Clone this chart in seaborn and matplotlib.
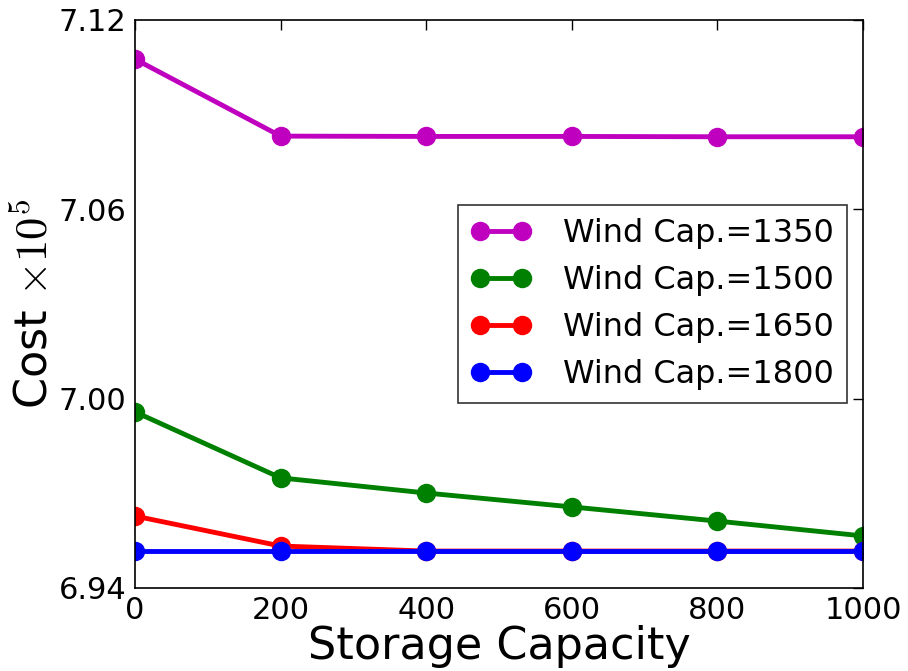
import numpy as np
import pandas as pd
import matplotlib
matplotlib.use("Agg")
import matplotlib.pyplot as plt
import seaborn as sns

storage = [0, 200, 400, 600, 800, 1000]
wind_caps = ["Wind Cap.=1350", "Wind Cap.=1500", "Wind Cap.=1650", "Wind Cap.=1800"]
cost_1350 = [7.1076, 7.0832, 7.0831, 7.0831, 7.0830, 7.0830]
cost_1500 = [6.9958, 6.9749, 6.9701, 6.9657, 6.9612, 6.9565]
cost_1650 = [6.9628, 6.9533, 6.9517, 6.9517, 6.9517, 6.9517]
cost_1800 = [6.9517, 6.9517, 6.9517, 6.9517, 6.9517, 6.9517]
colors = ["#bf00bf", "#008000", "#ff0000", "#0000ff"]

series = [cost_1350, cost_1500, cost_1650, cost_1800]
df = pd.concat(
    [pd.DataFrame({"storage": storage, "cost": vals, "wind": name})
     for name, vals in zip(wind_caps, series)],
    ignore_index=True,
)

sns.set_style("white", {"xtick.direction": "in", "ytick.direction": "in"})
plt.rcParams["font.family"] = ["DejaVu Sans"]
plt.rcParams["mathtext.fontset"] = "cm"
plt.rcParams["text.color"] = "black"
plt.rcParams["axes.labelcolor"] = "black"
plt.rcParams["xtick.color"] = "black"
plt.rcParams["ytick.color"] = "black"

fig = plt.figure(figsize=(9.08, 6.71), dpi=100)
ax = fig.add_axes([0.1487, 0.1237, 0.8017, 0.8465])

sns.lineplot(data=df, x="storage", y="cost", hue="wind", palette=colors,
             marker="o", markersize=14, markeredgewidth=0, linewidth=3.5,
             ax=ax, legend=True)

ax.set_xlim(0, 1000)
ax.set_ylim(6.94, 7.12)
ax.set_xticks(storage)
ax.set_yticks([6.94, 7.00, 7.06, 7.12])
ax.set_yticklabels(["6.94", "7.00", "7.06", "7.12"])
ax.tick_params(axis="both", labelsize=22, direction="in", length=7, width=1,
               top=True, right=True, pad=6, colors="black")
for s in ax.spines.values():
    s.set_color("black")
    s.set_linewidth(1.2)

ax.set_xlabel("Storage Capacity", fontsize=32, labelpad=0)
ax.set_ylabel(r"Cost $\times10^5$", fontsize=32, labelpad=2)

handles, labels = ax.get_legend_handles_labels()
leg = ax.legend(handles, labels, loc="upper right", bbox_to_anchor=(0.978, 0.674),
                borderaxespad=0, fontsize=23, numpoints=2, fancybox=False,
                frameon=True, handlelength=1.9, handletextpad=1.0,
                labelspacing=0.5, borderpad=0.4)
leg.get_frame().set_edgecolor("black")
leg.get_frame().set_linewidth(1.2)

fig.savefig("out.png", dpi=100)
